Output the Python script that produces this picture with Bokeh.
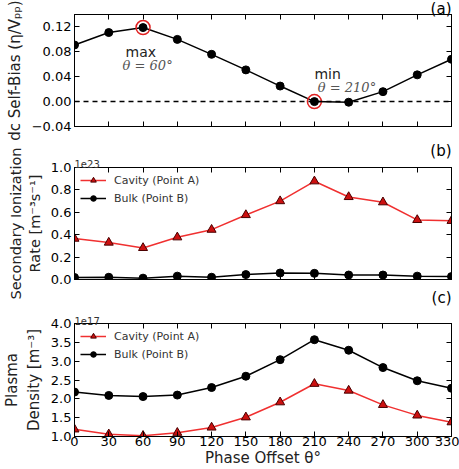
from bokeh.plotting import figure
from bokeh.layouts import column
from bokeh.models import (LinearAxis, FixedTicker, Span, Label, Range1d, Legend, Title)
from bokeh.embed import file_html
from bokeh.resources import INLINE

phase = [0, 30, 60, 90, 120, 150, 180, 210, 240, 270, 300, 330]
self_bias = [0.091, 0.111, 0.119, 0.100, 0.076, 0.051, 0.025, 0.000, -0.001, 0.016, 0.043, 0.068]
ion_cavity = [0.365, 0.330, 0.282, 0.377, 0.445, 0.576, 0.700, 0.877, 0.737, 0.690, 0.532, 0.524]  # x1e23
ion_bulk = [0.018, 0.020, 0.012, 0.030, 0.020, 0.044, 0.058, 0.055, 0.040, 0.040, 0.030, 0.026]    # x1e23
dens_bulk = [2.18, 2.09, 2.06, 2.10, 2.30, 2.60, 3.04, 3.57, 3.29, 2.83, 2.48, 2.28]              # x1e17
dens_cavity = [1.19, 1.06, 1.02, 1.10, 1.24, 1.51, 1.91, 2.40, 2.22, 1.84, 1.56, 1.38]            # x1e17

x_ticks = phase
bias_ticks = [-0.04, 0.00, 0.04, 0.08, 0.12]
ion_ticks = [0.0, 0.2, 0.4, 0.6, 0.8, 1.0]
dens_ticks = [1.0, 1.5, 2.0, 2.5, 3.0, 3.5, 4.0]

FONT = "DejaVu Sans"
RED_LINE = "#f03030"
RED_FILL = "#cc1010"
RED_EDGE = "#4a0000"


def make_fig(height, top, bottom, yr, yticks, ylabels, ylabel, ylabel_size, show_x):
    p = figure(width=459, height=height, output_backend="svg", toolbar_location=None,
               x_range=Range1d(0, 330), y_range=Range1d(*yr),
               min_border_left=74, min_border_right=8, min_border_top=top,
               min_border_bottom=bottom, x_axis_location=None, y_axis_location=None)
    p.grid.visible = False
    p.outline_line_color = "black"
    p.outline_line_width = 1
    p.background_fill_color = "white"
    p.border_fill_color = "white"
    for side, ticks, labels, lbl in [("below", x_ticks, [str(t) for t in x_ticks] if show_x else None, "Phase Offset θ°" if show_x else None),
                                      ("above", x_ticks, None, None),
                                      ("left", yticks, ylabels, ylabel),
                                      ("right", yticks, None, None)]:
        ax = LinearAxis(ticker=FixedTicker(ticks=ticks))
        ax.major_tick_in = 5
        ax.major_tick_out = 0
        ax.minor_tick_in = 0
        ax.minor_tick_out = 0
        ax.axis_line_color = "black"
        ax.major_tick_line_color = "black"
        if labels is None:
            ax.major_label_text_font_size = "0px"
            ax.major_label_text_color = None
            ax.major_label_standoff = 0
        else:
            ax.major_label_overrides = {t: l for t, l in zip(ticks, labels)}
            ax.major_label_text_font = FONT
            ax.major_label_text_font_size = "13px"
            ax.major_label_text_color = "black"
            ax.major_label_standoff = 3 if side == "left" else 0
        if lbl:
            ax.axis_label = lbl
            ax.axis_label_text_font = FONT
            ax.axis_label_text_font_size = ylabel_size if side == "left" else "15px"
            ax.axis_label_text_font_style = "normal"
            ax.axis_label_text_color = "#222222"
            ax.axis_label_standoff = 5 if side == "left" else 0
        p.add_layout(ax, side)
    return p


def add_title(p, text, align, size, standoff, place="above", color="black"):
    p.add_layout(Title(text=text, align=align, text_font=FONT, text_font_size=size,
                       text_font_style="normal", text_color=color, standoff=standoff), place)


def fmt(v, d):
    return f"{v:.{d}f}".replace("-", "−")


# (a)
pa = make_fig(140, 13, 14, (-0.04, 0.14), bias_ticks, [fmt(t, 2) for t in bias_ticks],
              "dc Self-Bias (η/Vₚₚ)", "15px", False)
pa.add_layout(Span(location=0, dimension="width", line_color="black", line_width=1.5, line_dash="5 4"))
pa.line(phase, self_bias, line_color="black", line_width=1.5)
pa.scatter(phase, self_bias, size=8, marker="circle", fill_color="black", line_color="black")
hi = [phase[2], phase[7]]
hv = [self_bias[2], self_bias[7]]
pa.scatter(hi, hv, size=14, marker="circle", fill_color=None, line_color="#e02020", line_width=1.5)
pa.add_layout(Label(x=58, y=0.080, text="max", text_font=FONT, text_font_size="14px",
                    text_align="center", text_baseline="middle", text_color="#222222"))
pa.add_layout(Label(x=64, y=0.058, text="θ = 60°", text_font="DejaVu Serif", text_font_style="italic",
                    text_font_size="13px", text_align="center", text_baseline="middle", text_color="#555555"))
pa.add_layout(Label(x=210, y=0.045, text="min", text_font=FONT, text_font_size="14px",
                    text_align="left", text_baseline="middle", text_color="#222222"))
pa.add_layout(Label(x=213, y=0.022, text="θ = 210°", text_font="DejaVu Serif", text_font_style="italic",
                    text_font_size="13px", text_align="left", text_baseline="middle", text_color="#555555"))
add_title(pa, "(a)", "right", "15px", -6)

# (b)  (its canvas also carries the "(c)" tag below, so the two-line y label has room)
pb = make_fig(174, 27, 33, (0.0, 1.0), ion_ticks, [fmt(t, 1) for t in ion_ticks],
              "Secondary Ionization\nRate [m⁻³s⁻¹]", "14.5px", False)
lb1 = pb.line(phase, ion_cavity, line_color=RED_LINE, line_width=1.5)
sb1 = pb.scatter(phase, ion_cavity, size=9, marker="triangle", fill_color=RED_FILL, line_color=RED_EDGE)
lb2 = pb.line(phase, ion_bulk, line_color="black", line_width=1.5)
sb2 = pb.scatter(phase, ion_bulk, size=8, marker="circle", fill_color="black", line_color="black")
add_title(pb, "1e23", "left", "10px", 0, color="#333333")
add_title(pb, "(b)", "right", "15px", -5)
add_title(pb, "(c)", "right", "15px", 15, place="below")

# (c)
pc = make_fig(155, 9, 33, (1.0, 4.0), dens_ticks, [fmt(t, 1) for t in dens_ticks],
              "Plasma\nDensity [m⁻³]", "15px", True)
lc1 = pc.line(phase, dens_cavity, line_color=RED_LINE, line_width=1.5)
sc1 = pc.scatter(phase, dens_cavity, size=9, marker="triangle", fill_color=RED_FILL, line_color=RED_EDGE)
lc2 = pc.line(phase, dens_bulk, line_color="black", line_width=1.5)
sc2 = pc.scatter(phase, dens_bulk, size=8, marker="circle", fill_color="black", line_color="black")
add_title(pc, "1e17", "left", "10px", -3, color="#333333")

for p, r1, s1, r2, s2 in [(pb, lb1, sb1, lb2, sb2), (pc, lc1, sc1, lc2, sc2)]:
    leg = Legend(items=[("Cavity (Point A)", [r1, s1]), ("Bulk (Point B)", [r2, s2])],
                 location="top_left", border_line_color=None, background_fill_alpha=0,
                 label_text_font=FONT, label_text_font_size="11px", label_text_color="#333333",
                 glyph_width=26, glyph_height=14, label_height=14, spacing=4, padding=4, margin=6,
                 label_standoff=8)
    p.add_layout(leg)

layout = column(pa, pb, pc, spacing=0)
open("out.html", "w").write(file_html(layout, INLINE))
